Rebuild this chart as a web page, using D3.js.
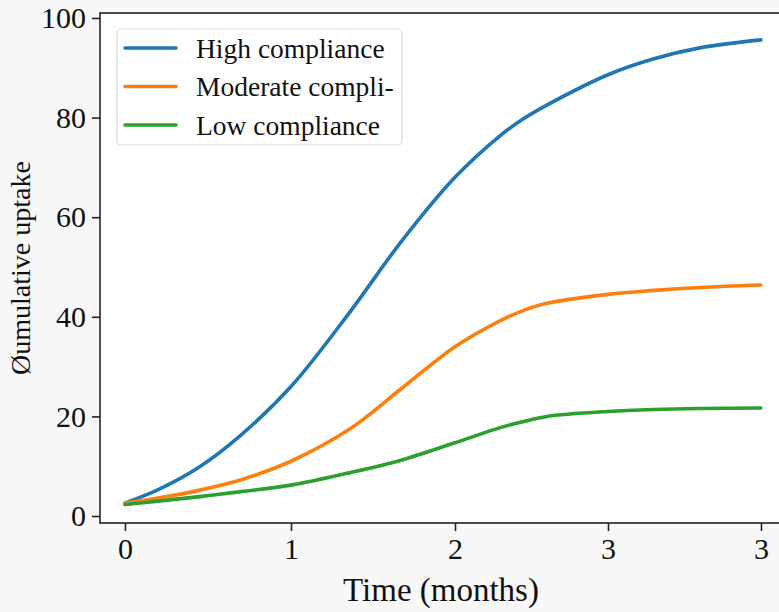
<!DOCTYPE html>
<html>
<head>
<meta charset="utf-8">
<script src="https://cdn.jsdelivr.net/npm/d3@7"></script>
<style>
  html, body { margin: 0; padding: 0; background: #f8f8f8; }
  svg { display: block; }
  text { font-family: "Liberation Serif", "DejaVu Serif", serif; fill: #111; }
</style>
</head>
<body>
<svg id="chart" width="779" height="612"></svg>
<script>
// ---- data ----
const times = [0, 0.2, 0.45, 0.7, 1.0, 1.36, 1.67, 2.0, 2.3, 2.45, 2.6, 3.0, 3.3, 3.6, 4.0];
const highCompliance = [2.6, 5.3, 9.9, 16.3, 26, 41, 55, 68, 76.5, 79.8, 82.5, 88.6, 91.8, 94, 95.6];
const moderateCompliance = [2.6, 3.6, 5.2, 7.3, 11, 17.5, 25.5, 34, 39.3, 41.3, 42.7, 44.5, 45.3, 45.9, 46.4];
const lowCompliance = [2.3, 3.0, 3.9, 4.9, 6.2, 8.7, 11.2, 14.7, 17.8, 19.0, 20.0, 21.0, 21.4, 21.6, 21.7];
const seriesNames = ["High compliance", "Moderate compli-", "Low compliance"];
const seriesColors = ["#1f77b4", "#ff7f0e", "#2ca02c"];
const xTickValues = [0, 1, 2, 3, 4];
const xTickLabels = ["0", "1", "2", "3", "3"];
const yTickValues = [0, 20, 40, 60, 80, 100];
const xLabel = "Time (months)";
const yLabel = "Øumulative uptake";

const series = [highCompliance, moderateCompliance, lowCompliance].map((vals, i) => ({
  name: seriesNames[i], color: seriesColors[i],
  points: times.map((t, j) => ({ t, v: vals[j] }))
}));

// ---- layout ----
const svg = d3.select("#chart");
const frame = { left: 100, right: 786, top: 13, bottom: 523 };

const x = d3.scaleLinear().domain(xTickValues).range([125, 291, 455, 608, 761]);
const y = d3.scaleLinear().domain([-1.4, 101]).range([frame.bottom, frame.top]);

svg.append("rect")
  .attr("x", frame.left).attr("y", frame.top)
  .attr("width", frame.right - frame.left).attr("height", frame.bottom - frame.top)
  .attr("fill", "#fff");

// lines
const line = d3.line().x(d => x(d.t)).y(d => y(d.v)).curve(d3.curveCatmullRom.alpha(0.5));
svg.append("g").selectAll("path").data(series).join("path")
  .attr("d", d => line(d.points))
  .attr("fill", "none")
  .attr("stroke", d => d.color)
  .attr("stroke-width", 3.6)
  .attr("stroke-linecap", "round");

// frame
svg.append("rect")
  .attr("x", frame.left).attr("y", frame.top)
  .attr("width", frame.right - frame.left).attr("height", frame.bottom - frame.top)
  .attr("fill", "none").attr("stroke", "#222").attr("stroke-width", 1.6);

// axes
const xAxis = d3.axisBottom(x).tickValues(xTickValues)
  .tickFormat((d, i) => xTickLabels[i]).tickSize(8).tickPadding(7);
const gx = svg.append("g").attr("transform", `translate(0,${frame.bottom})`).call(xAxis);
gx.select(".domain").remove();
gx.selectAll(".tick line").attr("stroke", "#222").attr("stroke-width", 1.6);
gx.selectAll(".tick text").attr("font-size", 30).attr("font-family", "Liberation Serif").attr("fill", "#111");

const yAxis = d3.axisLeft(y).tickValues(yTickValues).tickSize(8).tickPadding(6);
const gy = svg.append("g").attr("transform", `translate(${frame.left},0)`).call(yAxis);
gy.select(".domain").remove();
gy.selectAll(".tick line").attr("stroke", "#222").attr("stroke-width", 1.6);
gy.selectAll(".tick text").attr("font-size", 30).attr("font-family", "Liberation Serif").attr("fill", "#111");

// axis labels
svg.append("text")
  .attr("x", 441).attr("y", 601)
  .attr("text-anchor", "middle").attr("font-size", 33)
  .text(xLabel);
svg.append("text")
  .attr("transform", "translate(30,268) rotate(-90)")
  .attr("text-anchor", "middle").attr("font-size", 28)
  .text(yLabel);

// legend
const legend = svg.append("g");
legend.append("rect")
  .attr("x", 117).attr("y", 29).attr("width", 285).attr("height", 116)
  .attr("rx", 4).attr("fill", "#fff").attr("stroke", "#ddd").attr("stroke-width", 1.2);
const items = legend.selectAll("g.item").data(series).join("g")
  .attr("class", "item")
  .attr("transform", (d, i) => `translate(0,${48 + i * 38.5})`);
items.append("line")
  .attr("x1", 125).attr("x2", 176).attr("y1", 0).attr("y2", 0)
  .attr("stroke", d => d.color).attr("stroke-width", 3.6).attr("stroke-linecap", "round");
items.append("text")
  .attr("x", 196).attr("y", 0).attr("dy", "0.35em")
  .attr("font-size", 27.5)
  .text(d => d.name);
</script>
</body>
</html>
